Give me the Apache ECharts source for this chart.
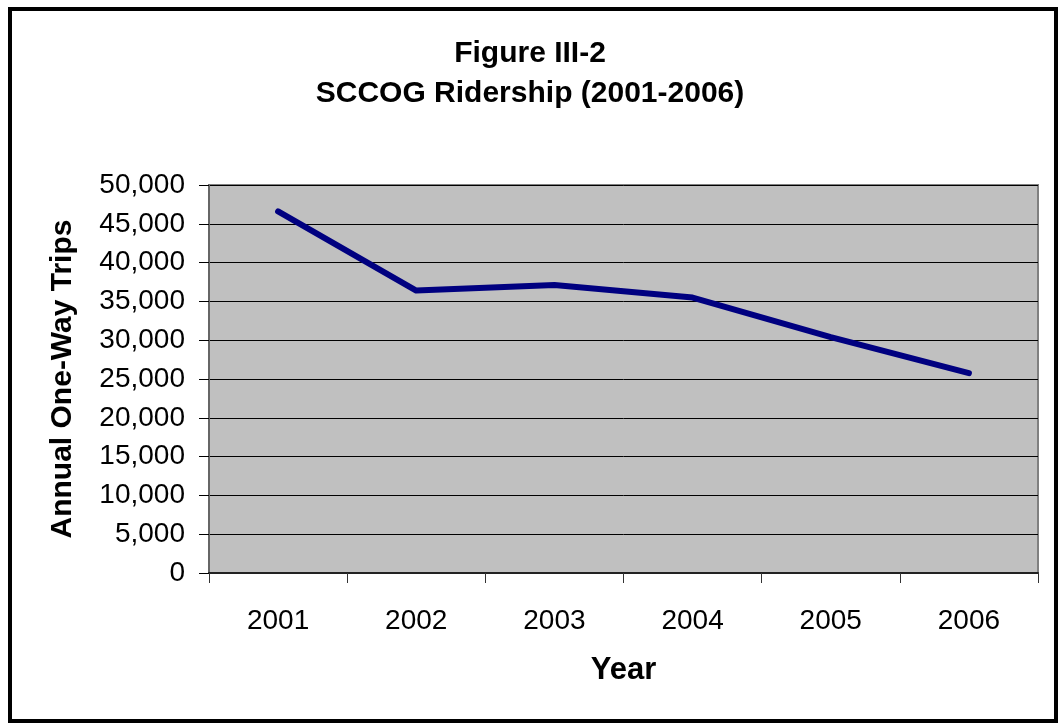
<!DOCTYPE html>
<html>
<head>
<meta charset="utf-8">
<script src="https://cdn.jsdelivr.net/npm/echarts@6/dist/echarts.min.js"></script>
<style>
html,body{margin:0;padding:0;background:#fff;}
#chart{width:1060px;height:724px;}
</style>
</head>
<body>
<div id="chart"></div>
<script>
const years = ['2001', '2002', '2003', '2004', '2005', '2006'];
const trips = [46600, 36400, 37100, 35500, 30400, 25750];
const titleLines = ['Figure III-2', 'SCCOG Ridership (2001-2006)'];
const xName = 'Year';
const yName = 'Annual One-Way Trips';

const FONT = '"Liberation Sans", Arial, sans-serif';
const chart = echarts.init(document.getElementById('chart'), null, {renderer: 'canvas'});
chart.setOption({
  animation: false,
  backgroundColor: '#fff',
  title: {
    text: titleLines.join('\n'),
    left: 'center',
    top: 29,
    textStyle: {fontFamily: FONT, fontSize: 30, fontWeight: 'bold', color: '#000', lineHeight: 40}
  },
  graphic: [{
    type: 'rect',
    shape: {x: 10, y: 9, width: 1046, height: 712},
    style: {fill: 'none', stroke: '#000', lineWidth: 4},
    silent: true
  }],
  grid: {
    left: 209, top: 185, right: 22, bottom: 151,
    show: true, backgroundColor: '#C0C0C0', borderColor: '#808080', borderWidth: 2
  },
  xAxis: {
    type: 'category',
    data: years,
    boundaryGap: true,
    name: xName,
    nameLocation: 'middle',
    nameGap: 82,
    nameTextStyle: {fontFamily: FONT, fontSize: 31, fontWeight: 'bold', color: '#000'},
    axisLine: {lineStyle: {color: '#222', width: 2}},
    axisTick: {show: true, length: 10, inside: false, alignWithLabel: false, lineStyle: {color: '#333', width: 1}},
    axisLabel: {fontFamily: FONT, fontSize: 28, color: '#000', margin: 34},
    splitLine: {show: false}
  },
  yAxis: {
    type: 'value',
    min: 0, max: 50000, interval: 5000,
    name: yName,
    nameLocation: 'middle',
    nameRotate: 90,
    nameGap: 131,
    nameTextStyle: {fontFamily: FONT, fontSize: 30, fontWeight: 'bold', color: '#000'},
    axisLine: {show: true, lineStyle: {color: '#666', width: 2}},
    axisTick: {show: true, length: 10, lineStyle: {color: '#000', width: 1}},
    axisLabel: {
      fontFamily: FONT, fontSize: 28, color: '#000', margin: 24,
      formatter: v => v.toLocaleString('en-US')
    },
    splitLine: {show: true, lineStyle: {color: '#000', width: 1}}
  },
  series: [{
    type: 'line',
    data: trips,
    showSymbol: false,
    symbol: 'none',
    lineStyle: {color: '#000080', width: 6, cap: 'round', join: 'round'},
    itemStyle: {color: '#000080'}
  }]
});
</script>
</body>
</html>
